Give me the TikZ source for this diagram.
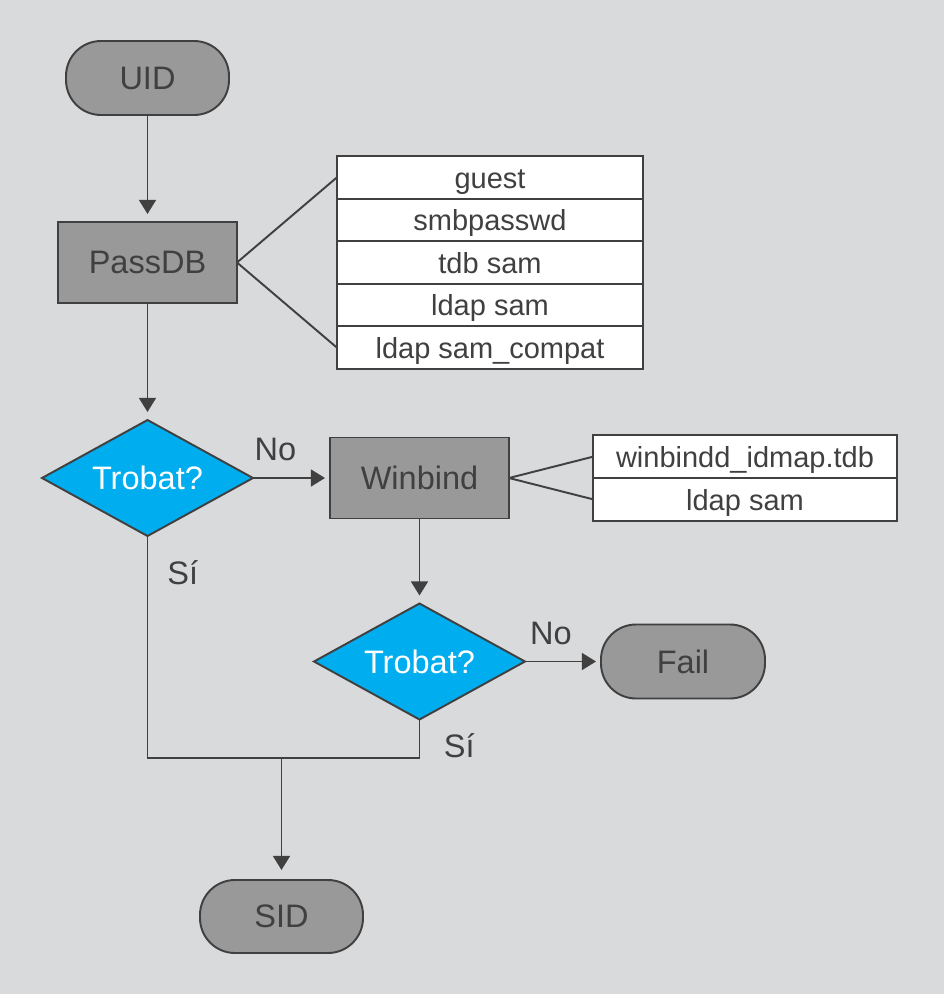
\documentclass[tikz,border=0pt]{standalone}
\usepackage{fontspec}
\setmainfont{Liberation Sans}
\usepackage{xcolor}
\usepackage{tikz}
\usetikzlibrary{
  shapes.geometric, arrows.meta, positioning
}
\definecolor{pagebg}{HTML}{D9DADC}
\definecolor{boxgray}{HTML}{999999}
\definecolor{edgegray}{HTML}{404040}
\definecolor{decblue}{HTML}{00AEEF}
\tikzset{
  flowterm/.style={
    draw=edgegray, fill=boxgray, rounded corners=0.7cm, line width=1.1pt,
    text=edgegray, font=\fontsize{18.5}{22}\selectfont, outer sep=0pt,
    minimum width=3.26cm, minimum height=1.48cm
  },
  flowbox/.style={
    draw=edgegray, fill=boxgray, line width=1.1pt, outer sep=0pt,
    text=edgegray, font=\fontsize{18.5}{22}\selectfont,
    minimum width=3.58cm, minimum height=1.62cm
  },
  flowdecision/.style={
    diamond, draw=edgegray, fill=decblue, line width=1.1pt, outer sep=0pt,
    text=white, font=\fontsize{18.5}{22}\selectfont, inner sep=1pt,
    aspect=1.8, minimum width=4.22cm, minimum height=2.32cm
  },
  listrow/.style={
    draw=edgegray, fill=white, line width=1.1pt, outer sep=0pt,
    text=edgegray, font=\fontsize{16.5}{20}\selectfont, inner sep=0pt,
    text height=12.3pt, text depth=0pt,
    minimum width=6.12cm, minimum height=0.852cm
  },
  flowline/.style={draw=edgegray, line width=1.1pt},
  flowarrow/.style={
    flowline, -{Triangle[length=8pt, width=9.6pt]}, shorten >=0.16cm
  },
  flowlabel/.style={
    text=edgegray, font=\fontsize{18.5}{22}\selectfont
  },
}

\begin{document}
\begin{tikzpicture}[node distance=2cm and 1.5cm]
  \fill[pagebg] (0,0) rectangle (18.88,-19.88);
  \useasboundingbox (0,0) rectangle (18.88,-19.88);

  \node[flowterm] (uid) at (2.95,-1.56) {UID};
  \node[flowbox, below=2.14cm of uid] (passdb) {PassDB};
  \node[flowdecision, below=2.34cm of passdb] (trobata) {Trobat?};
  \node[flowbox, right=1.54cm of trobata] (winbind) {Winbind};
  \node[flowdecision, below=1.7cm of winbind] (trobatb) {Trobat?};
  \node[flowterm, minimum width=3.28cm, right=1.52cm of trobatb] (fail) {Fail};
  \node[flowterm, minimum height=1.46cm] (sid) at (5.63,-18.33) {SID};
  \coordinate[above=2.44cm of sid] (merge);

  % passdb backends
  \node[listrow, right=2cm of passdb] (tdbsam) {tdb sam};
  \node[listrow, above=0pt of tdbsam] (smbpasswd) {smbpasswd};
  \node[listrow, above=0pt of smbpasswd] (guest) {guest};
  \node[listrow, below=0pt of tdbsam] (ldapsam) {ldap sam};
  \node[listrow, below=0pt of ldapsam] (samcompat) {ldap sam\_compat};

  % winbind backends
  \node[listrow, minimum width=6.08cm, anchor=south west] (idmaptdb) at ([xshift=1.68cm]winbind.east) {winbindd\_idmap.tdb};
  \node[listrow, minimum width=6.08cm, below=0pt of idmaptdb] (wbldap) {ldap sam};

  \draw[flowline] (passdb.east) -- (guest.west);
  \draw[flowline] (passdb.east) -- (samcompat.west);
  \draw[flowline] (winbind.east) -- (idmaptdb.west);
  \draw[flowline] (winbind.east) -- (wbldap.west);

  \draw[flowarrow] (uid) -- (passdb);
  \draw[flowarrow] (passdb) -- (trobata);
  \draw[flowarrow, shorten >=0.1cm] (trobata) -- node[flowlabel, above=0.2cm, pos=0.29] {No} (winbind);
  \draw[flowarrow] (winbind) -- (trobatb);
  \draw[flowarrow, shorten >=0.1cm] (trobatb) -- node[flowlabel, above=0.2cm, pos=0.34] {No} (fail);
  \draw[flowline] (trobata.south) -- node[flowlabel, right=0.26cm, pos=0.167] {Sí} (trobata.south |- merge)
    -- (trobatb.south |- merge) -- node[flowlabel, right=0.35cm, pos=0.32] {Sí} (trobatb.south);
  \draw[flowarrow, shorten >=0.2cm] (merge) -- (sid);
\end{tikzpicture}
\end{document}
